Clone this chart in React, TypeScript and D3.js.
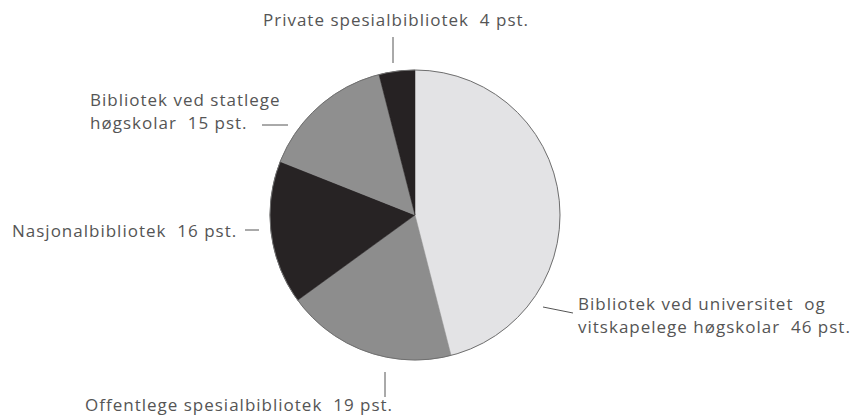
import React from "react";
import * as d3 from "d3";

const categories = [
  "Bibliotek ved universitet og vitskapelege høgskolar",
  "Offentlege spesialbibliotek",
  "Nasjonalbibliotek",
  "Bibliotek ved statlege høgskolar",
  "Private spesialbibliotek",
];
const values = [46, 19, 16, 15, 4];
const labelLines = [
  ["Bibliotek ved universitet  og", "vitskapelege høgskolar  46 pst."],
  ["Offentlege spesialbibliotek  19 pst."],
  ["Nasjonalbibliotek  16 pst."],
  ["Bibliotek ved statlege", "høgskolar  15 pst."],
  ["Private spesialbibliotek  4 pst."],
];
const colors = ["#e3e3e5", "#8d8d8d", "#272324", "#8f8f8f", "#262223"];

// layout (positions of labels and leader lines)
const labelLayout = [
  { x: 578, y: 310, anchor: "start", line: [543, 307, 573, 313] },
  { x: 85, y: 411, anchor: "start", line: [385, 372, 385, 397] },
  { x: 12, y: 237, anchor: "start", line: [245, 230, 259, 230] },
  { x: 90, y: 106, anchor: "start", line: [262, 125, 288, 125] },
  { x: 396, y: 26, anchor: "middle", line: [393, 37, 393, 63] },
];

const W = 858;
const H = 419;
const cx = 415;
const cy = 215;
const R = 145;

export default function App() {
  const pie = d3.pie<number>().sort(null).value((d) => d)(values);
  const arc = d3.arc<d3.PieArcDatum<number>>().innerRadius(0).outerRadius(R);
  return (
    <svg
      width={W}
      height={H}
      style={{ position: "absolute", left: 0, top: 0, background: "#fff" }}
    >
      <g transform={`translate(${cx},${cy})`}>
        {pie.map((p, i) => (
          <path key={categories[i]} d={arc(p) || ""} fill={colors[i]} stroke={colors[i]} strokeWidth={0.5} />
        ))}
        <circle r={R} fill="none" stroke="#6f6f6f" strokeWidth={1} />
      </g>
      {labelLayout.map((l, i) => (
        <g key={i}>
          <line
            x1={l.line[0]}
            y1={l.line[1]}
            x2={l.line[2]}
            y2={l.line[3]}
            stroke="#555"
            strokeWidth={1}
          />
          <text
            x={l.x}
            y={l.y}
            textAnchor={l.anchor as any}
            fontFamily="'Open Sans', sans-serif"
            fontSize={17}
            letterSpacing={1}
            fill="#555"
            style={{ whiteSpace: "pre" }}
          >
            {labelLines[i].map((t, j) => (
              <tspan key={j} x={l.x} dy={j === 0 ? 0 : 23}>
                {t}
              </tspan>
            ))}
          </text>
        </g>
      ))}
    </svg>
  );
}
